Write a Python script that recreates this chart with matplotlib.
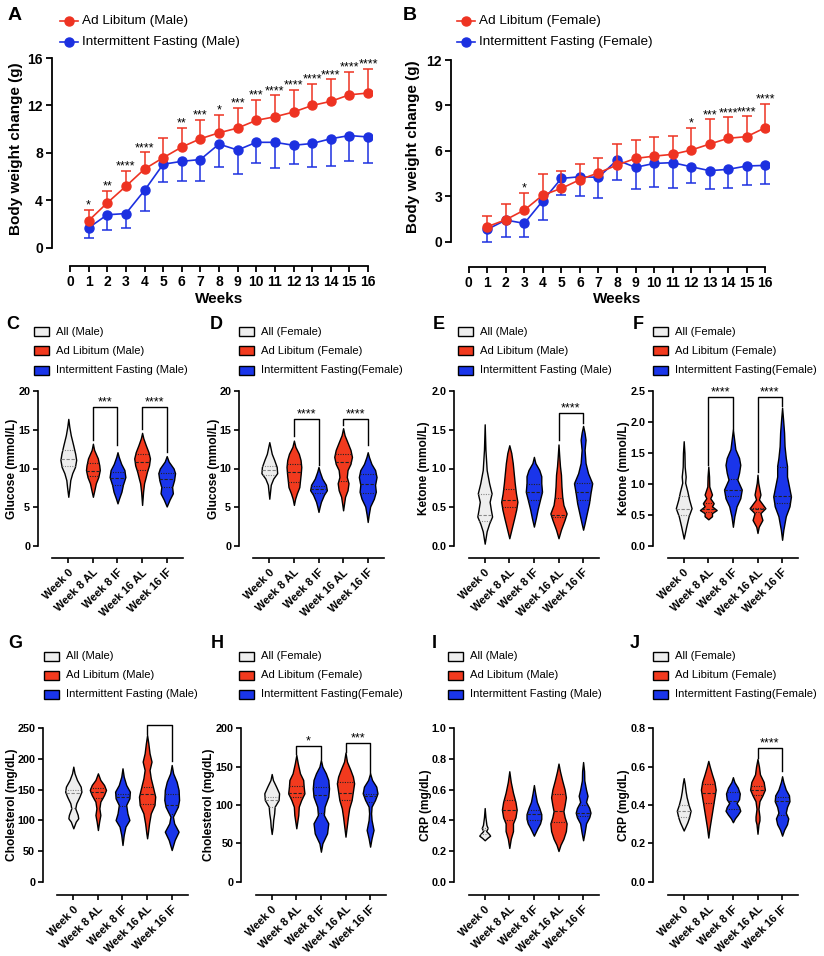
import numpy as np
import matplotlib
matplotlib.use('Agg')
import matplotlib.pyplot as plt
from matplotlib.lines import Line2D
from matplotlib.patches import Rectangle

plt.rcParams['font.family'] = ['Liberation Sans', 'DejaVu Sans']

W, H = 824, 956
RED = '#EE3322'
BLUE = '#1C30E0'
VRED = '#F23A1E'
VBLUE = '#1A35EA'
VWHITE = '#EEEEEE'

# ---- body weight change (mean, SD) ----
weeks = np.arange(1, 17)
al_male_mean = [2.3, 3.8, 5.2, 6.65, 7.6, 8.5, 9.2, 9.7, 10.1, 10.75, 11.05, 11.45, 12.0, 12.35, 12.9, 13.05]
al_male_sd = [0.93, 1.0, 1.26, 1.4, 1.65, 1.6, 1.6, 1.5, 1.7, 1.75, 1.8, 1.85, 1.8, 1.85, 1.95, 2.0]
if_male_mean = [1.7, 2.8, 2.9, 4.85, 7.05, 7.3, 7.45, 8.75, 8.25, 8.9, 8.9, 8.65, 8.8, 9.2, 9.47, 9.35]
if_male_sd = [0.9, 1.26, 1.2, 1.77, 1.52, 1.68, 1.82, 1.96, 2.05, 1.77, 2.2, 1.55, 1.97, 2.3, 2.17, 2.19]
male_stars = ['*', '**', '****', '****', '', '**', '***', '*', '***', '***',
              '****', '****', '****', '****', '****', '****']

al_female_mean = [0.99, 1.45, 2.09, 3.08, 3.52, 4.1, 4.55, 5.06, 5.5, 5.65, 5.77, 6.05, 6.45, 6.83, 6.94, 7.53]
al_female_sd = [0.73, 1.02, 1.15, 1.37, 1.17, 1.01, 0.98, 1.37, 1.19, 1.24, 1.19, 1.48, 1.63, 1.38, 1.34, 1.56]
if_female_mean = [0.81, 1.43, 1.21, 2.71, 4.18, 4.29, 4.25, 5.39, 4.91, 5.17, 5.22, 4.95, 4.69, 4.78, 5.0, 5.04]
if_female_sd = [0.85, 1.1, 0.88, 1.28, 1.1, 1.27, 1.35, 1.32, 1.43, 1.54, 1.65, 1.05, 1.23, 1.26, 1.28, 1.23]
female_stars = ['', '', '*', '', '', '', '', '', '', '', '', '*', '***', '****', '****', '****']

# ---- violin groups ----
groups = ['Week 0', 'Week 8 AL', 'Week 8 IF', 'Week 16 AL', 'Week 16 IF']
group_colors = [VWHITE, VRED, VBLUE, VRED, VBLUE]
male_legend = ['All (Male)', 'Ad Libitum (Male)', 'Intermittent Fasting (Male)']
female_legend = ['All (Female)', 'Ad Libitum (Female)', 'Intermittent Fasting(Female)']

# violin outlines: (value, half width) from top to bottom
glu_male_shape = [
    [(16.4, 0), (15.4, .04), (14.3, .1), (13.0, .2), (11.9, .28), (11.1, .32), (10.2, .27), (9.4, .16), (8.5, .08), (7.6, .05), (6.35, 0)],
    [(13.2, 0), (12.4, .05), (11.3, .2), (10.4, .26), (9.8, .28), (8.9, .22), (8.1, .12), (7.2, .06), (6.35, 0)],
    [(12.1, 0), (11.5, .05), (10.6, .15), (9.8, .28), (8.9, .32), (7.9, .22), (7.0, .16), (6.1, .06), (5.5, 0)],
    [(14.6, 0), (13.9, .05), (13.0, .15), (12.1, .26), (11.3, .32), (10.4, .28), (9.6, .2), (8.7, .13), (8.1, .08), (7.0, .04), (5.3, 0)],
    [(11.6, 0), (10.9, .08), (10.0, .28), (9.4, .34), (8.5, .3), (7.6, .22), (6.8, .25), (6.0, .12), (5.1, 0)],
]
glu_male_median = [11.2, 9.7, 8.8, 10.9, 8.7]
glu_male_quart = [(10.3, 12.4), (9.0, 10.7), (7.9, 9.6), (9.8, 11.9), (7.6, 9.4)]
glu_male_sig = [(1, 2, '***', 13.7, 13.0, 17.9), (3, 4, '****', 15.1, 12.1, 17.9)]

glu_female_shape = [
    [(13.4, 0), (12.8, .04), (11.9, .1), (11.1, .2), (10.2, .3), (9.4, .32), (8.7, .16), (7.9, .06), (7.0, .03), (6.1, 0)],
    [(13.6, 0), (12.8, .06), (11.9, .2), (11.1, .27), (10.2, .3), (9.4, .28), (8.5, .25), (7.6, .22), (6.8, .12), (6.1, .05), (5.3, 0)],
    [(10.2, 0), (9.6, .05), (8.7, .15), (7.9, .3), (7.2, .34), (6.6, .22), (5.7, .1), (5.1, .05), (4.4, 0)],
    [(15.2, 0), (14.3, .06), (13.2, .2), (12.4, .3), (11.5, .36), (10.6, .3), (9.8, .18), (8.9, .15), (8.1, .22), (7.2, .18), (6.35, .08), (5.5, .04), (4.6, 0)],
    [(12.1, 0), (11.5, .05), (10.6, .15), (9.8, .3), (8.9, .36), (7.9, .3), (7.0, .33), (6.1, .25), (5.1, .1), (4.0, .04), (3.1, 0)],
]
glu_female_median = [9.8, 9.6, 7.3, 10.8, 8.0]
glu_female_quart = [(9.1, 10.3), (8.3, 10.6), (6.8, 7.7), (8.4, 11.9), (6.8, 9.3)]
glu_female_sig = [(1, 2, '****', 14.2, 10.4, 16.4), (3, 4, '****', 15.6, 13.0, 16.4)]

ket_male_shape = [
    [(1.57, 0), (1.24, .03), (0.98, .08), (0.81, .18), (0.68, .28), (0.57, .2), (0.47, .25), (0.38, .3), (0.29, .18), (0.19, .08), (0.03, 0)],
    [(1.3, 0), (1.2, .08), (1.07, .14), (0.94, .18), (0.81, .22), (0.68, .27), (0.57, .33), (0.47, .28), (0.36, .2), (0.23, .1), (0.1, 0)],
    [(1.15, 0), (1.07, .06), (0.98, .22), (0.9, .3), (0.81, .3), (0.7, .33), (0.6, .25), (0.47, .15), (0.36, .08), (0.25, 0)],
    [(1.31, 0), (1.16, .03), (1.03, .06), (0.92, .1), (0.77, .12), (0.64, .15), (0.53, .2), (0.42, .33), (0.34, .25), (0.21, .1), (0.1, 0)],
    [(1.55, 0), (1.46, .06), (1.37, .1), (1.24, .06), (1.07, .1), (0.94, .2), (0.81, .37), (0.68, .3), (0.55, .24), (0.42, .15), (0.29, .06), (0.21, 0)],
]
ket_male_median = [0.4, 0.6, 0.7, 0.4, 0.7]
ket_male_quart = [(0.32, 0.67), (0.5, 0.73), (0.6, 0.8), (0.37, 0.62), (0.6, 0.81)]
ket_male_sig = [(3, 4, '****', 1.37, 1.59, 1.72)]

ket_female_shape = [
    [(1.69, 0), (1.5, .03), (1.28, .04), (1.12, .08), (1.02, .06), (0.88, .15), (0.75, .22), (0.61, .32), (0.48, .2), (0.31, .1), (0.12, 0)],
    [(1.28, 0), (1.12, .03), (0.96, .04), (0.83, .15), (0.77, .08), (0.69, .22), (0.64, .15), (0.58, .34), (0.53, .15), (0.48, .15), (0.43, 0)],
    [(1.88, 0), (1.72, .05), (1.56, .1), (1.42, .25), (1.31, .3), (1.18, .25), (1.07, .18), (0.91, .36), (0.77, .3), (0.64, .15), (0.48, .06), (0.31, 0)],
    [(1.15, 0), (1.02, .03), (0.83, .12), (0.75, .06), (0.61, .32), (0.53, .12), (0.42, .2), (0.31, .05), (0.21, 0)],
    [(2.23, 0), (2.04, .04), (1.83, .08), (1.61, .1), (1.42, .15), (1.29, .2), (1.12, .2), (0.96, .28), (0.8, .36), (0.64, .3), (0.48, .15), (0.26, .05), (0.1, 0)],
]
ket_female_median = [0.6, 0.6, 0.9, 0.6, 0.8]
ket_female_quart = [(0.5, 0.8), (0.55, 0.7), (0.8, 1.08), (0.55, 0.62), (0.7, 1.28)]
ket_female_sig = [(1, 2, '****', 1.31, 1.89, 2.4), (3, 4, '****', 1.2, 2.26, 2.4)]

chol_male_shape = [
    [(187.5, 0), (176.6, .05), (165.8, .15), (154.9, .3), (146.7, .33), (138.6, .25), (127.7, .12), (119.6, .08), (108.7, .18), (103.3, .2), (97.8, .1), (87, 0)],
    [(176.6, 0), (165.8, .1), (157.6, .25), (149.5, .33), (141.3, .25), (130.4, .1), (119.6, .06), (108.7, .1), (97.8, .05), (84.2, 0)],
    [(184.8, 0), (171.2, .05), (157.6, .15), (146.7, .3), (135.9, .28), (125, .15), (111.4, .2), (100.5, .28), (89.7, .12), (76.1, .05), (59.8, 0)],
    [(239, 0), (225.5, .05), (209.2, .1), (195.7, .18), (182.1, .1), (168.5, .15), (152.2, .25), (138.6, .33), (125, .3), (111.4, .15), (95.1, .08), (78.8, .03), (70.7, 0)],
    [(190.2, 0), (176.6, .06), (163, .2), (149.5, .28), (133.2, .3), (122.3, .25), (106, .05), (95.1, .1), (81.5, .28), (67.9, .12), (51.6, 0)],
]
chol_male_median = [144, 147, 138, 143, 125]
chol_male_quart = [(120, 150), (137, 152), (124, 143), (127, 155), (110, 143)]
chol_male_sig = [(3, 4, '****', 240.8, 197, 255)]

chol_female_shape = [
    [(140.4, 0), (132.6, .05), (123.9, .18), (115.2, .3), (106.5, .28), (97.8, .12), (89.1, .1), (80.4, .06), (71.7, .04), (62.2, 0)],
    [(165.2, 0), (154.3, .06), (141.3, .15), (132.6, .28), (123.9, .3), (115.2, .33), (106.5, .2), (97.8, .1), (87, .08), (78.3, .04), (69.6, 0)],
    [(158.7, 0), (150, .06), (141.3, .2), (132.6, .3), (121.7, .33), (110.9, .3), (97.8, .15), (87, .12), (76.1, .3), (63, .25), (50, .06), (39.1, 0)],
    [(168.3, 0), (156.5, .06), (145.7, .2), (137, .3), (128.3, .35), (117.4, .3), (106.5, .25), (95.7, .15), (84.8, .1), (71.7, .05), (58.7, 0)],
    [(141.3, 0), (132.6, .08), (123.9, .25), (115.2, .3), (106.5, .2), (97.8, .06), (89.1, .04), (80.4, .06), (67.4, .14), (56.5, .06), (45.7, 0)],
]
chol_female_median = [106, 116, 113, 116, 112]
chol_female_quart = [(98, 111), (110, 125), (90, 124), (107, 130), (104, 114)]
chol_female_sig = [(1, 2, '*', 166.5, 159.6, 177), (3, 4, '***', 169.6, 141.3, 180.4)]

crp_male_shape = [
    [(0.48, 0), (0.42, .03), (0.37, .07), (0.35, .12), (0.33, .06), (0.31, .18), (0.30, .22), (0.285, .1), (0.27, 0)],
    [(0.72, 0), (0.65, .06), (0.58, .15), (0.52, .25), (0.47, .3), (0.42, .25), (0.38, .15), (0.33, .15), (0.28, .06), (0.22, 0)],
    [(0.63, 0), (0.58, .05), (0.52, .12), (0.48, .22), (0.44, .3), (0.41, .3), (0.38, .25), (0.35, .15), (0.32, .06), (0.30, 0)],
    [(0.77, 0), (0.72, .06), (0.66, .15), (0.60, .25), (0.55, .3), (0.50, .25), (0.46, .2), (0.42, .25), (0.38, .33), (0.33, .3), (0.28, .2), (0.24, .08), (0.20, 0)],
    [(0.78, 0), (0.72, .04), (0.66, .05), (0.60, .12), (0.56, .18), (0.52, .12), (0.48, .25), (0.45, .3), (0.42, .25), (0.38, .12), (0.32, .06), (0.27, 0)],
]
crp_male_median = [0.34, 0.47, 0.44, 0.46, 0.45]
crp_male_quart = [(0.31, 0.35), (0.4, 0.53), (0.4, 0.47), (0.39, 0.57), (0.43, 0.5)]
crp_male_sig = []

crp_female_shape = [
    [(0.54, 0), (0.51, .04), (0.47, .08), (0.44, .12), (0.40, .2), (0.37, .28), (0.336, .22), (0.31, .15), (0.284, .06), (0.267, 0)],
    [(0.63, 0), (0.60, .06), (0.56, .15), (0.52, .25), (0.48, .3), (0.44, .25), (0.40, .2), (0.36, .15), (0.32, .1), (0.28, .05), (0.23, 0)],
    [(0.545, 0), (0.52, .06), (0.49, .2), (0.46, .28), (0.43, .25), (0.41, .15), (0.39, .25), (0.37, .3), (0.35, .2), (0.33, .08), (0.31, 0)],
    [(0.64, 0), (0.60, .06), (0.56, .1), (0.52, .25), (0.48, .3), (0.45, .2), (0.42, .08), (0.38, .04), (0.34, .08), (0.32, .08), (0.30, .04), (0.25, 0)],
    [(0.55, 0), (0.52, .05), (0.48, .15), (0.45, .28), (0.42, .3), (0.39, .2), (0.36, .15), (0.33, .25), (0.30, .2), (0.27, .08), (0.24, 0)],
]
crp_female_median = [0.37, 0.46, 0.42, 0.48, 0.42]
crp_female_quart = [(0.34, 0.4), (0.41, 0.51), (0.38, 0.47), (0.45, 0.5), (0.35, 0.44)]
crp_female_sig = [(3, 4, '****', 0.645, 0.577, 0.697)]


fig = plt.figure(figsize=(W / 100, H / 100), dpi=100)


def fx(x):
    return x / W


def fy(y):
    return 1 - y / H


def px_axes(left, top, right, bottom):
    ax = fig.add_axes([fx(left), fy(bottom), (right - left) / W, (bottom - top) / H])
    ax.patch.set_alpha(0)
    ax.spines['top'].set_visible(False)
    ax.spines['right'].set_visible(False)
    return ax


def weight_panel(left, right, top, bottom, x0, x16, y0, yref, yref_val,
                 al_mean, al_sd, if_mean, if_sd, stars, yticks, ylab_x, letter_xy, leg_x, sex):
    ax = px_axes(left, top, right, bottom)
    ppx = (x16 - x0) / 16
    ppy = (y0 - yref) / yref_val
    ax.set_xlim((left - x0) / ppx, (right - x0) / ppx)
    ax.set_ylim(-(bottom - y0) / ppy, (y0 - top) / ppy)
    al_mean, al_sd = np.array(al_mean), np.array(al_sd)
    if_mean, if_sd = np.array(if_mean), np.array(if_sd)

    ax.vlines(weeks, if_mean - if_sd, if_mean, color=BLUE, lw=1.1)
    ax.plot(weeks, if_mean - if_sd, ls='none', marker='_', ms=7, mew=1.1, color=BLUE)
    ax.plot(weeks, if_mean, '-o', color=BLUE, lw=1.2, ms=6.5)
    ax.vlines(weeks, al_mean, al_mean + al_sd, color=RED, lw=1.1)
    ax.plot(weeks, al_mean + al_sd, ls='none', marker='_', ms=7, mew=1.1, color=RED)
    ax.plot(weeks, al_mean, '-o', color=RED, lw=1.2, ms=6.5)

    for w, m, s, st in zip(weeks, al_mean, al_sd, stars):
        if st:
            ax.annotate(st, (w, m + s), xytext=(0, 1), textcoords='offset points',
                        ha='center', va='baseline', fontsize=9)

    for s in ('left', 'bottom'):
        ax.spines[s].set_linewidth(1.3)
    ax.spines['left'].set_bounds(0, yticks[-1])
    ax.spines['bottom'].set_bounds(0, 16)
    ax.set_xticks(range(0, 17), [str(i) for i in range(17)], fontweight='bold', fontsize=10)
    ax.set_yticks(yticks, [str(t) for t in yticks], fontweight='bold', fontsize=10)
    ax.tick_params(width=1.3, length=4.5, pad=2)
    ax.set_ylabel('Body weight change (g)', fontsize=11, fontweight='bold')
    ax.yaxis.set_label_coords(fx(ylab_x), fy((y0 + yref) / 2 - 4), transform=fig.transFigure)
    ax.set_xlabel('Weeks', fontsize=11, fontweight='bold')
    ax.xaxis.set_label_coords(fx((x0 + x16) / 2), fy(292), transform=fig.transFigure)

    fig.text(fx(letter_xy[0]), fy(letter_xy[1]), letter_xy[2], fontsize=14,
             fontweight='bold', ha='center', va='center')
    for ry, c, lab in ((20.7, RED, 'Ad Libitum (%s)' % sex), (41.7, BLUE, 'Intermittent Fasting (%s)' % sex)):
        fig.add_artist(Line2D([fx(leg_x), fx(leg_x + 18)], [fy(ry), fy(ry)],
                              transform=fig.transFigure, color=c, lw=1.2))
        fig.add_artist(Line2D([fx(leg_x + 9)], [fy(ry)], transform=fig.transFigure,
                              color=c, marker='o', ms=6.5))
        fig.text(fx(leg_x + 22), fy(ry), lab, fontsize=9.7, va='center', ha='left')


weight_panel(52, 372, 54, 266, 70, 368, 248, 58, 16,
             al_male_mean, al_male_sd, if_male_mean, if_male_sd, male_stars,
             [0, 4, 8, 12, 16], 23, (15, 15, 'A'), 60, 'Male')
weight_panel(451, 769, 57, 266.7, 468.7, 765.3, 241.7, 60, 12,
             al_female_mean, al_female_sd, if_female_mean, if_female_sd, female_stars,
             [0, 3, 6, 9, 12], 419.5, (410, 15, 'B'), 457, 'Female')

SP = 24.6


def violin_panel(c0, row, top_val, yticks, fmt, shapes, medians, quarts, sigs,
                 ylabel, ylab_x, letter, letter_xy, patch_x, labels):
    if row == 1:
        top_px, zero_px, bot_px, leg_rows = 391, 546, 558.3, (331.7, 350.7, 370)
    else:
        top_px, zero_px, bot_px, leg_rows = 728.3, 881.7, 895, (656, 675, 694.3)
    left, right = c0 - 30.5, c0 + 4 * SP + 16
    ax = px_axes(left, top_px, right, bot_px)
    ax.set_xlim(-30.5 / SP, (4 * SP + 16) / SP)
    ax.set_ylim(-(bot_px - zero_px) / (zero_px - top_px) * top_val, top_val)

    for i, (shape, med, (q1, q3)) in enumerate(zip(shapes, medians, quarts)):
        ys = np.array([p[0] for p in shape])
        ws = np.array([p[1] for p in shape])
        ax.fill_betweenx(ys, i - ws, i + ws, facecolor=group_colors[i],
                         edgecolor='black', lw=1.0, zorder=2)
        lc = '#888888' if i == 0 else '#222222'
        for v, ls in ((med, (0, (3, 1.5))), (q1, (0, (1, 1.2))), (q3, (0, (1, 1.2)))):
            hw = np.interp(v, ys[::-1], ws[::-1])
            ax.plot([i - hw, i + hw], [v, v], color=lc, ls=ls, lw=0.8, zorder=3)

    for a, b, lab, ya, yb, bar in sigs:
        ax.plot([a, a, b, b], [ya, bar, bar, yb], color='black', lw=1.0, clip_on=False)
        ax.annotate(lab, ((a + b) / 2, bar), xytext=(0, 1.2), textcoords='offset points',
                    ha='center', va='baseline', fontsize=9)

    for s in ('left', 'bottom'):
        ax.spines[s].set_linewidth(1.2)
    ax.spines['left'].set_bounds(0, top_val)
    ax.spines['bottom'].set_bounds(-16 / SP, 4 + 16 / SP)
    ax.set_yticks(yticks, [fmt % t for t in yticks], fontweight='bold', fontsize=7.8)
    ax.set_xticks(range(5), groups, fontweight='bold', fontsize=8,
                  rotation=45, ha='right', rotation_mode='anchor')
    ax.tick_params(width=1.2, length=3.5, pad=2)
    ax.tick_params(axis='x', pad=3)
    ax.set_ylabel(ylabel, fontsize=8.6, fontweight='bold')
    ax.yaxis.set_label_coords(fx(ylab_x), fy((top_px + zero_px) / 2), transform=fig.transFigure)

    fig.text(fx(letter_xy[0]), fy(letter_xy[1]), letter, fontsize=13,
             fontweight='bold', ha='center', va='center')
    for ry, c, lab in zip(leg_rows, [VWHITE, VRED, VBLUE], labels):
        fig.add_artist(Rectangle((fx(patch_x - 7.3), fy(ry + 4.5)), 14.7 / W, 9 / H,
                                 transform=fig.transFigure, facecolor=c,
                                 edgecolor='black', lw=1.0))
        fig.text(fx(patch_x + 14.5), fy(ry), lab, fontsize=8.1, va='center', ha='left')


violin_panel(68.3, 1, 20, [0, 5, 10, 15, 20], '%d', glu_male_shape, glu_male_median,
             glu_male_quart, glu_male_sig, 'Glucose (mmol/L)', 18, 'C', (13, 325), 41.7, male_legend)
violin_panel(269.3, 1, 20, [0, 5, 10, 15, 20], '%d', glu_female_shape, glu_female_median,
             glu_female_quart, glu_female_sig, 'Glucose (mmol/L)', 220, 'D', (216, 325), 246.7, female_legend)
violin_panel(484.7, 1, 2.0, [0, 0.5, 1.0, 1.5, 2.0], '%.1f', ket_male_shape, ket_male_median,
             ket_male_quart, ket_male_sig, 'Ketone (mmol/L)', 430.5, 'E', (438.7, 325), 465.3, male_legend)
violin_panel(683.7, 1, 2.5, [0, 0.5, 1.0, 1.5, 2.0, 2.5], '%.1f', ket_female_shape, ket_female_median,
             ket_female_quart, ket_female_sig, 'Ketone (mmol/L)', 630.5, 'F', (638, 325), 660.3, female_legend)
violin_panel(73.3, 2, 250, [0, 50, 100, 150, 200, 250], '%d', chol_male_shape, chol_male_median,
             chol_male_quart, chol_male_sig, 'Cholesterol (mg/dL)', 18.5, 'G', (15, 644), 51.7, male_legend)
violin_panel(271.7, 2, 200, [0, 50, 100, 150, 200], '%d', chol_female_shape, chol_female_median,
             chol_female_quart, chol_female_sig, 'Cholesterol (mg/dL)', 215, 'H', (217, 644), 246.7, female_legend)
violin_panel(484.7, 2, 1.0, [0, 0.2, 0.4, 0.6, 0.8, 1.0], '%.1f', crp_male_shape, crp_male_median,
             crp_male_quart, crp_male_sig, 'CRP (mg/dL)', 431.5, 'I', (434, 644), 455.3, male_legend)
violin_panel(683.7, 2, 0.8, [0, 0.2, 0.4, 0.6, 0.8], '%.1f', crp_female_shape, crp_female_median,
             crp_female_quart, crp_female_sig, 'CRP (mg/dL)', 630.5, 'J', (634.7, 644), 660.3, female_legend)

fig.savefig('out.png', dpi=100)
